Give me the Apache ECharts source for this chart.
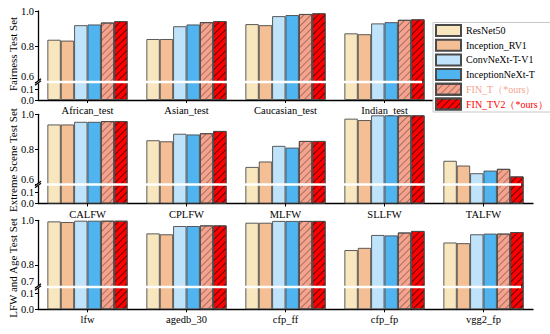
<!DOCTYPE html>
<html>
<head>
<meta charset="utf-8">
<script src="https://cdn.jsdelivr.net/npm/echarts@6/dist/echarts.min.js"></script>
<style>html,body{margin:0;padding:0;background:#fff}#c{width:550px;height:334px}</style>
</head>
<body>
<div id="c"></div>
<script>
// ---------- data ----------
const models = ['ResNet50', 'Inception_RV1', 'ConvNeXt-T-V1', 'InceptionNeXt-T', 'FIN_T（*ours）', 'FIN_TV2（*ours）'];

const fairCats = ['African_test', 'Asian_test', 'Caucasian_test', 'Indian_test'];
const fairResNet50 = [0.838, 0.842, 0.926, 0.874];
const fairInceptionRV1 = [0.833, 0.842, 0.920, 0.869];
const fairConvNeXt = [0.920, 0.914, 0.971, 0.930];
const fairInceptionNeXt = [0.924, 0.924, 0.977, 0.937];
const fairFINT = [0.935, 0.937, 0.983, 0.950];
const fairFINTV2 = [0.943, 0.943, 0.987, 0.953];

const extremeCats = ['CALFW', 'CPLFW', 'MLFW', 'SLLFW', 'TALFW'];
const extremeResNet50 = [0.942, 0.852, 0.700, 0.975, 0.735];
const extremeInceptionRV1 = [0.942, 0.846, 0.731, 0.967, 0.708];
const extremeConvNeXt = [0.957, 0.889, 0.820, 0.994, 0.664];
const extremeInceptionNeXt = [0.957, 0.885, 0.810, 0.994, 0.679];
const extremeFINT = [0.961, 0.892, 0.848, 0.994, 0.689];
const extremeFINTV2 = [0.961, 0.905, 0.848, 0.994, 0.646];

const lfwCats = ['lfw', 'agedb_30', 'cfp_ff', 'cfp_fp', 'vgg2_fp'];
const lfwResNet50 = [0.995, 0.941, 0.989, 0.866, 0.900];
const lfwInceptionRV1 = [0.992, 0.937, 0.989, 0.876, 0.897];
const lfwConvNeXt = [0.998, 0.974, 0.997, 0.934, 0.937];
const lfwInceptionNeXt = [0.998, 0.974, 0.997, 0.932, 0.940];
const lfwFINT = [0.998, 0.977, 0.997, 0.945, 0.940];
const lfwFINTV2 = [0.998, 0.977, 0.997, 0.952, 0.947];

const fairUpperTicks = [0.6, 0.8, 1.0];
const fairLowerTicks = [0.0, 0.1];
const extremeUpperTicks = [0.6, 0.8, 1.0];
const extremeLowerTicks = [0.0, 0.1];
const lfwUpperTicks = [0.7, 0.8, 1.0];
const lfwLowerTicks = [0.0, 0.1];

const panelNames = ['Fairness Test Set', 'Extreme Scene Test Set', 'LFW and Age Test Set'];

// ---------- styles / layout ----------
const FONT = "'Times New Roman', 'Liberation Serif', serif";
const colors = ['#F8E6BF', '#F4BF94', '#BEE3FA', '#4FB4F0', '#F3A38E', '#FF0000'];
const legendTextColors = ['#000', '#000', '#000', '#000', '#F3A38E', '#FF0000'];
const decals = [null, null, null, null,
  { symbol: 'rect', symbolSize: 1, dashArrayX: [1, 0], dashArrayY: [0.7, 3.8], rotation: -Math.PI / 4, color: 'rgba(100,55,45,0.5)' },
  { symbol: 'rect', symbolSize: 1, dashArrayX: [1, 0], dashArrayY: [0.7, 3.8], rotation: -Math.PI / 4, color: 'rgba(0,0,0,0.6)' }];

const LEFT = 38, CATW = 99;
const panels = [
  { cats: fairCats, vals: [fairResNet50, fairInceptionRV1, fairConvNeXt, fairInceptionNeXt, fairFINT, fairFINTV2],
    upTicks: fairUpperTicks, lowTicks: fairLowerTicks, top: 11, brk: 82, bottom: 100, lowMax: 0.164, upMin: 0.6, nameY: 54 },
  { cats: extremeCats, vals: [extremeResNet50, extremeInceptionRV1, extremeConvNeXt, extremeInceptionNeXt, extremeFINT, extremeFINTV2],
    upTicks: extremeUpperTicks, lowTicks: extremeLowerTicks, top: 114.3, brk: 184.5, bottom: 203.5, lowMax: 0.17, upMin: 0.6, nameY: 160 },
  { cats: lfwCats, vals: [lfwResNet50, lfwInceptionRV1, lfwConvNeXt, lfwInceptionNeXt, lfwFINT, lfwFINTV2],
    upTicks: lfwUpperTicks, lowTicks: lfwLowerTicks, top: 220.3, brk: 287, bottom: 309.3, lowMax: 0.14, upMin: 0.7, nameY: 268 }
];

const grids = [], xAxes = [], yAxes = [], series = [], graphics = [];
const axisLineStyle = { color: '#000', width: 1.3 };
const labelStyle = { fontFamily: FONT, fontSize: 10.5, color: '#000' };

panels.forEach((p, pi) => {
  const width = p.cats.length * CATW;
  const segs = [
    { top: p.top, height: p.brk - p.top, min: p.upMin, max: 1.0, ticks: p.upTicks, isUpper: true },
    { top: p.brk, height: p.bottom - p.brk, min: 0, max: p.lowMax, ticks: p.lowTicks, isUpper: false }
  ];
  segs.forEach(s => {
    const gi = grids.length;
    grids.push({ left: LEFT, top: s.top, width: width, height: s.height, containLabel: false });
    xAxes.push({
      type: 'category', gridIndex: gi, data: p.cats, show: !s.isUpper,
      axisLine: { show: !s.isUpper, lineStyle: axisLineStyle },
      axisTick: { show: true, alignWithLabel: true, length: 3, lineStyle: { color: '#000', width: 1 } },
      axisLabel: Object.assign({ margin: 5 }, labelStyle)
    });
    yAxes.push({
      type: 'value', gridIndex: gi, min: s.min, max: s.max,
      splitLine: { show: false },
      axisLine: { show: true, onZero: false, lineStyle: axisLineStyle },
      axisTick: { show: true, length: 3, customValues: s.ticks, lineStyle: { color: '#000', width: 1 } },
      axisLabel: Object.assign({
        margin: 4,
        customValues: s.ticks,
        formatter: v => (s.isUpper && Math.abs(v - s.min) < 1e-9) ? '{up|' + v.toFixed(1) + '}' : v.toFixed(1),
        rich: { up: { fontFamily: FONT, fontSize: 10.5, color: '#000', padding: [0, 0, 11, 0] } }
      }, labelStyle)
    });
    models.forEach((m, mi) => {
      series.push({
        type: 'bar', name: m, xAxisIndex: gi, yAxisIndex: gi,
        data: p.vals[mi], barGap: '0%', barCategoryGap: '19%', clip: true,
        itemStyle: { color: colors[mi], borderColor: '#4a4a4a', borderWidth: 0.9, decal: decals[mi] || undefined },
        emphasis: { disabled: true }, animation: false
      });
    });
  });
  // break: white line across bars + slanted marks on the axis
  graphics.push({ type: 'rect', shape: { x: LEFT - 2, y: p.brk - 1.2, width: width - 10, height: 2.4 }, style: { fill: '#fff' }, z: 100 });
  graphics.push({ type: 'line', shape: { x1: LEFT - 3, y1: p.brk + 1.2, x2: LEFT + 3, y2: p.brk - 3.2 }, style: { stroke: '#000', lineWidth: 1.2 }, z: 101 });
  graphics.push({ type: 'line', shape: { x1: LEFT - 3, y1: p.brk + 3.2, x2: LEFT + 3, y2: p.brk - 1.2 }, style: { stroke: '#000', lineWidth: 1.2 }, z: 101 });
  graphics.push({
    type: 'text', x: 13, y: p.nameY, rotation: Math.PI / 2, z: 100,
    style: { text: panelNames[pi], font: '11px ' + FONT, fill: '#000', textAlign: 'center', textVerticalAlign: 'middle', align: 'center', verticalAlign: 'middle' }
  });
});

const option = {
  animation: false,
  backgroundColor: '#fff',
  grid: grids, xAxis: xAxes, yAxis: yAxes, series: series,
  legend: {
    orient: 'vertical', left: 433, top: 22.5,
    padding: [1.5, 3, 1.5, 2], itemGap: 1.7, itemWidth: 25, itemHeight: 11,
    borderColor: '#c8c8c8', borderWidth: 1, backgroundColor: '#fff',
    icon: 'rect', selectedMode: false,
    textStyle: { fontFamily: FONT, fontSize: 10, fontWeight: 'normal', color: '#000' },
    data: models.map((m, i) => ({ name: m, textStyle: { color: legendTextColors[i], fontFamily: FONT, fontSize: 10, fontWeight: 'normal' } }))
  },
  graphic: { elements: graphics }
};

const chart = echarts.init(document.getElementById('c'), null, { renderer: 'svg', width: 550, height: 334 });
chart.setOption(option);
</script>
</body>
</html>
